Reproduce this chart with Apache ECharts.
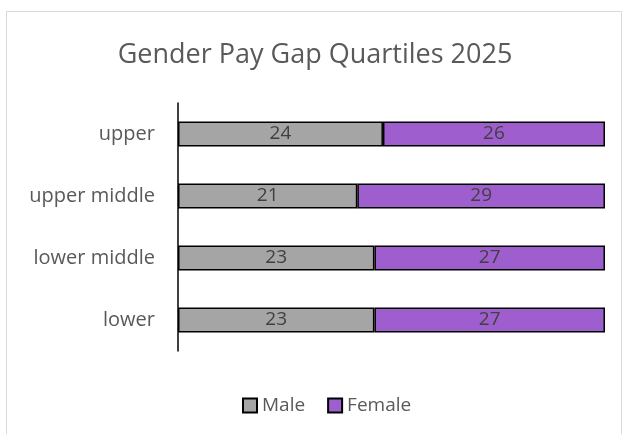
<!DOCTYPE html>
<html>
<head>
    <meta charset="utf-8">
    <title>Gender Pay Gap Quartiles 2025</title>
    <script src="https://cdn.jsdelivr.net/npm/echarts@6/dist/echarts.min.js"></script>
    <style>
        * { padding: 0; margin: 0; }
        body { background: #fff; }
    </style>
</head>
<body>
    <div id="main" style="width:630px;height:434px;"></div>
    <script type="text/javascript">
        // data
        var quartiles = ['lower', 'lower middle', 'upper middle', 'upper'];
        var male = [23, 23, 21, 24];
        var female = [27, 27, 29, 26];

        var myChart = echarts.init(document.getElementById('main'));
        var font = 'Open Sans';

        var labelStyle = {
            show: true,
            position: 'inside',
            color: '#404040',
            fontSize: 19,
            fontFamily: font
        };

        var option = {
            backgroundColor: '#fff',
            animation: false,
            title: {
                text: 'Gender Pay Gap Quartiles 2025',
                left: 'center',
                top: 37,
                textStyle: {
                    color: '#595959',
                    fontSize: 27,
                    fontWeight: 'normal',
                    fontFamily: font
                }
            },
            graphic: [{
                type: 'rect',
                shape: { x: 6.5, y: 11.5, width: 615, height: 440 },
                style: { fill: 'none', stroke: '#d9d9d9', lineWidth: 1 },
                silent: true
            }],
            legend: {
                top: 391,
                left: 237,
                itemWidth: 14,
                itemHeight: 14,
                itemGap: 22,
                icon: 'rect',
                textStyle: { color: '#595959', fontSize: 19, fontFamily: font },
                data: ['Male', 'Female']
            },
            grid: {
                left: 178,
                right: 25,
                top: 103,
                bottom: 83,
                containLabel: false
            },
            xAxis: {
                type: 'value',
                min: 0,
                max: 50,
                show: false
            },
            yAxis: {
                type: 'category',
                data: quartiles,
                axisLine: { show: true, lineStyle: { color: '#000', width: 1.5 } },
                axisTick: { show: false },
                axisLabel: {
                    color: '#595959',
                    fontSize: 20,
                    fontFamily: font,
                    margin: 23
                }
            },
            series: [{
                name: 'Male',
                type: 'bar',
                stack: 'total',
                barCategoryGap: '60%',
                data: male,
                label: labelStyle,
                itemStyle: { color: '#a5a5a5', borderColor: '#000', borderWidth: 1.5 }
            }, {
                name: 'Female',
                type: 'bar',
                stack: 'total',
                barCategoryGap: '60%',
                data: female,
                label: labelStyle,
                itemStyle: { color: '#9e5ece', borderColor: '#000', borderWidth: 1.5 }
            }]
        };
        myChart.setOption(option);
    </script>
</body>
</html>
